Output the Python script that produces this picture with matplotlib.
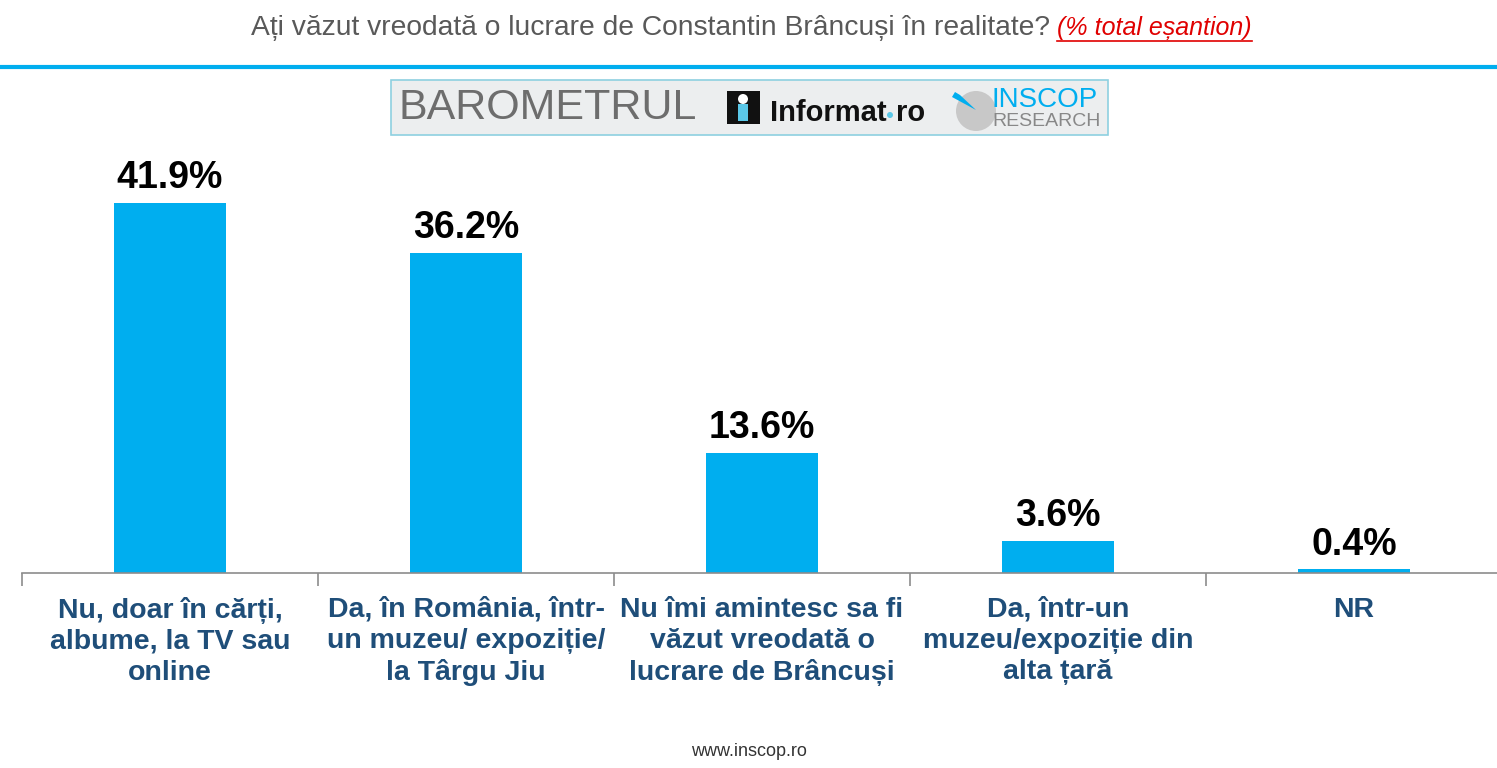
import matplotlib.pyplot as plt
from matplotlib.patches import Rectangle, Ellipse, Polygon
from matplotlib.lines import Line2D

categories = ["Nu, doar în cărți,\nalbume, la TV sau\nonline",
              "Da, în România, într-\nun muzeu/ expoziție/\nla Târgu Jiu",
              "Nu îmi amintesc sa fi\nvăzut vreodată o\nlucrare de Brâncuși",
              "Da, într-un\nmuzeu/expoziție din\nalta țară",
              "NR"]
values = [41.9, 36.2, 13.6, 3.6, 0.4]

title_main = "Ați văzut vreodată o lucrare de Constantin Brâncuși în realitate?"
title_note = "(% total eșantion)"
footer = "www.inscop.ro"

FONT = ['Liberation Sans', 'DejaVu Sans']
plt.rcParams['font.family'] = FONT

BLUE = '#00AEEF'
NAVY = '#1F4E79'

W, H = 1497, 768
fig = plt.figure(figsize=(W / 100, H / 100), dpi=100)

# axes: baseline at y=573px, 5 categories of ~296px from x=22
ax = fig.add_axes([22 / W, 1 - 573 / H, 1480 / W, 45 * 8.83 / H])
x = list(range(len(values)))
bars = ax.bar(x, values, width=0.38, color=BLUE)
ax.set_xlim(-0.5, 4.5)
ax.set_ylim(0, 45)
for s in ['top', 'right', 'left']:
    ax.spines[s].set_visible(False)
ax.spines['bottom'].set_color('#8c8c8c')
ax.spines['bottom'].set_linewidth(1.2)
ax.set_yticks([])
ax.set_xticks([i - 0.5 for i in range(len(values) + 1)])
ax.set_xticklabels([])
ax.tick_params(axis='x', which='major', length=9, color='#8c8c8c', width=1.2)
ax.set_xticks(x, minor=True)
ax.set_xticklabels(categories, minor=True, fontsize=20.5, fontweight='bold',
                   color=NAVY, linespacing=1.25)
ax.tick_params(axis='x', which='minor', length=0, pad=17)

for b, v in zip(bars, values):
    ax.annotate(f"{v}%", (b.get_x() + b.get_width() / 2, v), xytext=(0, 5),
                textcoords='offset points', ha='center', va='bottom',
                fontsize=27, fontweight='bold', color='black')

# title
t1 = fig.text(1050 / W, 1 - 28 / H, title_main, ha='right', va='center',
              fontsize=20.3, color='#595959')
t2 = fig.text(1057 / W, 1 - 28 / H, title_note, ha='left', va='center',
              fontsize=18, color='#E00000', style='italic')
fig.canvas.draw()
bb = t2.get_window_extent()
fig.add_artist(Line2D([bb.x0 / W, bb.x1 / W], [(bb.y0 - 1) / H] * 2,
                      transform=fig.transFigure, color='#E00000', lw=1.2))

# blue separator line
fig.add_artist(Line2D([0, 1], [1 - 67 / H] * 2, transform=fig.transFigure,
                      color=BLUE, lw=3))

# logo banner
fig.add_artist(Rectangle((391 / W, 1 - 135 / H), 717 / W, 55 / H,
                         transform=fig.transFigure, facecolor='#ECEEEF',
                         edgecolor='#8ED0E0', lw=1.2))
fig.text(398 / W, 1 - 108 / H, "BAROMETRUL", ha='left', va='center',
         fontsize=31, color='#6d6d6d', fontweight='light')
fig.add_artist(Rectangle((727 / W, 1 - 124 / H), 33 / W, 33 / H,
                         transform=fig.transFigure, facecolor='#111111'))
fig.add_artist(Rectangle((738 / W, 1 - 121 / H), 10 / W, 17 / H,
                         transform=fig.transFigure, facecolor='#5BC8E8'))
fig.add_artist(Ellipse((743 / W, 1 - 99 / H), 10 / W, 10 / H,
                       transform=fig.transFigure, facecolor='white'))
fig.text(770 / W, 1 - 113 / H, "Informat", ha='left', va='center', fontsize=21,
         fontweight='bold', color='#111111')
fig.add_artist(Ellipse((890 / W, 1 - 115 / H), 6 / W, 6 / H,
                       transform=fig.transFigure, facecolor='#5BC8E8'))
fig.text(896 / W, 1 - 113 / H, "ro", ha='left', va='center', fontsize=21,
         fontweight='bold', color='#111111')
fig.add_artist(Ellipse((976 / W, 1 - 111 / H), 40 / W, 40 / H,
                       transform=fig.transFigure, facecolor='#C8C8C8'))
fig.add_artist(Polygon([(955 / W, 1 - 92 / H), (960 / W, 1 - 95 / H),
                        (976 / W, 1 - 110 / H), (952 / W, 1 - 97 / H)],
                       closed=True, transform=fig.transFigure, facecolor=BLUE))
fig.text(992 / W, 1 - 100 / H, "INSCOP", ha='left', va='center', fontsize=20,
         color=BLUE)
fig.text(992 / W, 1 - 121 / H, "RESEARCH", ha='left', va='center', fontsize=14,
         color='#888888')

fig.text(749 / W, 1 - 752 / H, footer, ha='center', va='center', fontsize=13,
         color='#333333')

fig.savefig('out.png', dpi=100, facecolor='white')
